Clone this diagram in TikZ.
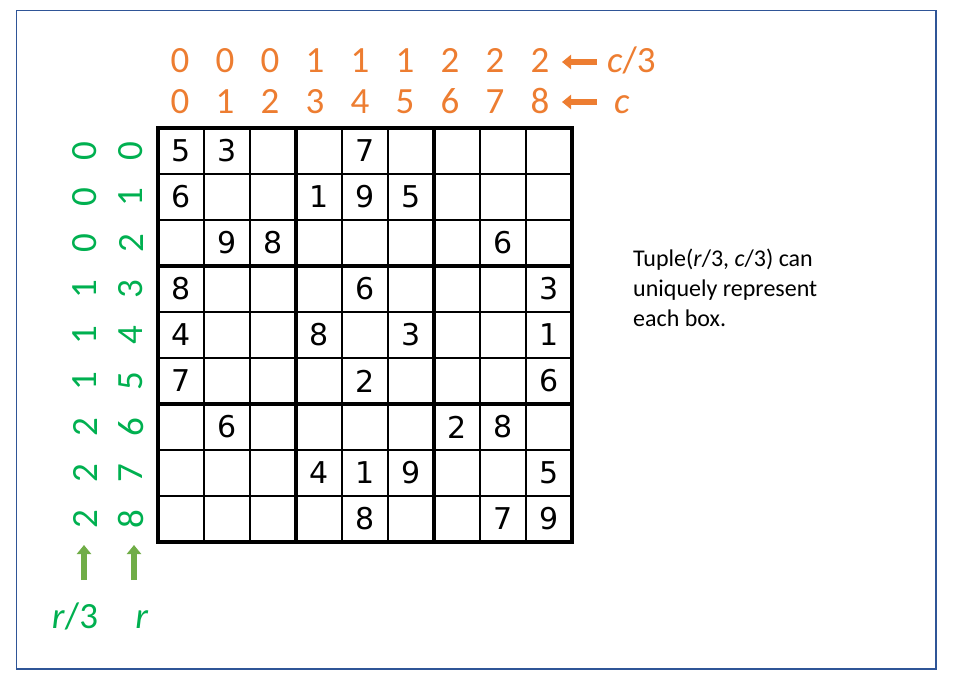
\documentclass[tikz,border=0pt]{standalone}
\usepackage{fontspec}
\setmainfont{Carlito}
\newfontfamily\gridfont{DejaVu Sans}
\usepackage{xcolor}
\usetikzlibrary{arrows.meta}
\definecolor{frameblue}{HTML}{2F5597}
\definecolor{idxorange}{HTML}{ED7D31}
\definecolor{idxgreen}{HTML}{00B050}
\definecolor{arrowgreen}{HTML}{70AD47}

\begin{document}
\begin{tikzpicture}[x=1pt, y=-1pt,
    colidx/.style={text=idxorange, font=\fontsize{37}{37}\selectfont, inner sep=0pt, anchor=base},
    rowidx/.style={text=idxgreen, font=\fontsize{37}{37}\selectfont, inner sep=0pt, rotate=90},
    given/.style={font=\gridfont\fontsize{30}{30}\selectfont, inner sep=0pt},
    thinline/.style={line width=2pt},
    boxline/.style={line width=4.5pt},
    oarrow/.style={draw=idxorange, line width=6pt, -{Triangle[length=9pt,width=14pt]}},
    garrow/.style={draw=arrowgreen, line width=6.5pt, -{Triangle[length=9pt,width=14pt]}},
    note/.style={font=\fontsize{24}{30}\selectfont, align=left, anchor=north west, inner sep=0pt}
]
\useasboundingbox (0,0) rectangle (960,680);
\draw[frameblue, line width=1.5pt] (16.5,10.5) rectangle (936,669);

% grid
\foreach \i in {1,2,4,5,7,8} {
  \draw[thinline] (158+46*\i,128) -- (158+46*\i,542);
  \draw[thinline] (158,128+46*\i) -- (572,128+46*\i);
}
\foreach \i in {3,6} {
  \draw[boxline] (158+46*\i,128) -- (158+46*\i,542);
  \draw[boxline] (158,128+46*\i) -- (572,128+46*\i);
}
\draw[boxline] (158,128) rectangle (572,542);

% givens
\foreach \r/\c/\v in {0/0/5, 0/1/3, 0/4/7, 1/0/6, 1/3/1, 1/4/9, 1/5/5, 2/1/9, 2/2/8, 2/7/6,
    3/0/8, 3/4/6, 3/8/3, 4/0/4, 4/3/8, 4/5/3, 4/8/1, 5/0/7, 5/4/2, 5/8/6,
    6/1/6, 6/6/2, 6/7/8, 7/3/4, 7/4/1, 7/5/9, 7/8/5, 8/4/8, 8/7/7, 8/8/9}
  \node[given] (g\r\c) at (181+46*\c, 151+46*\r) {\v};

% column indices
\foreach \c in {0,...,8} {
  \pgfmathtruncatemacro\b{\c/3}
  \node[colidx] (cb\c) at (180+45*\c, 72) {\b};
  \node[colidx] (cc\c) at (180+45*\c, 113) {\c};
}
\node[colidx, anchor=base west] (cblab) at (607,72) {\textit{c}/3};
\node[colidx, anchor=base west] (cclab) at (614,113) {\textit{c}};
\coordinate (cbtail) at (597,62);
\coordinate (cctail) at (597,102);
\draw[oarrow] (cbtail) -- (562,62);
\draw[oarrow] (cctail) -- (562,102);

% row indices
\foreach \r in {0,...,8} {
  \pgfmathtruncatemacro\b{\r/3}
  \node[rowidx] (rb\r) at (85, 151+46*\r) {\b};
  \node[rowidx] (rr\r) at (131, 151+46*\r) {\r};
}
\node[colidx, text=idxgreen] (rblab) at (75,628) {\textit{r}/3};
\node[colidx, text=idxgreen] (rrlab) at (142,628) {\textit{r}};
\coordinate (rbtail) at (84,580);
\coordinate (rrtail) at (134,580);
\draw[garrow] (rbtail) -- (84,545);
\draw[garrow] (rrtail) -- (134,545);

\node[note] (tuplenote) at (633,249) {Tuple(\textit{r}/3, \textit{c}/3) can\\uniquely represent\\each box.};
\end{tikzpicture}
\end{document}
